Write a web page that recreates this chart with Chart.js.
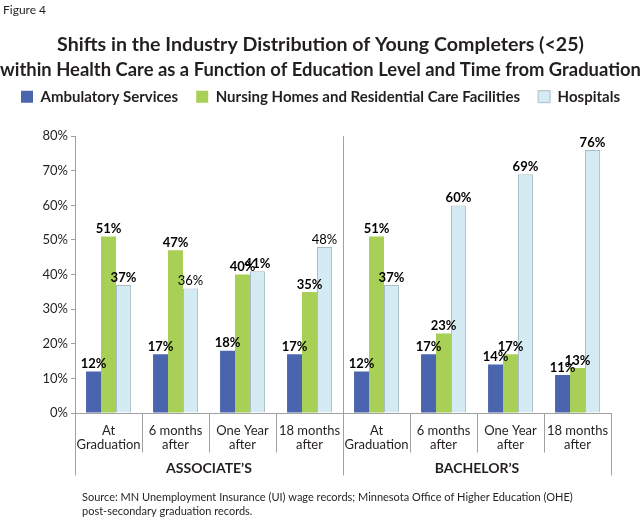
<!DOCTYPE html>
<html>
<head>
<meta charset="utf-8">
<script src="https://cdn.jsdelivr.net/npm/chart.js@4"></script>
<style>
  html, body { margin: 0; padding: 0; background: #fff; }
  #wrap { width: 641px; height: 521px; position: relative; }
</style>
</head>
<body>
<div id="wrap"><canvas id="c" width="641" height="521"></canvas></div>
<script>
// ---- data ----
const groups = ["ASSOCIATE\u2019S", "BACHELOR\u2019S"];
const periods = [["At", "Graduation"], ["6 months", "after"], ["One Year", "after"], ["18 months", "after"]];
const seriesNames = ["Ambulatory Services", "Nursing Homes and Residential Care Facilities", "Hospitals"];
const ambulatory = [12, 17, 18, 17, 12, 17, 14, 11];
const nursing = [51, 47, 40, 35, 51, 23, 17, 13];
const hospitals = [37, 36, 41, 48, 37, 60, 69, 76];
const yTicks = [0, 10, 20, 30, 40, 50, 60, 70, 80];

const categories = groups.flatMap(() => periods);
const FONT = "Lato, 'Open Sans', sans-serif";
const TEXT = "#231f20";
const LINE = "#a0a0a0";

const extras = {
  id: "extras",
  beforeInit(chart) {
    const fit = chart.legend.fit;
    chart.legend.fit = function () { fit.bind(chart.legend)(); this.height += 22; };
  },
  afterDraw(chart) {
    const ctx = chart.ctx;
    const x = chart.scales.x, y = chart.scales.y;
    const area = chart.chartArea;
    const n = categories.length;
    const step = (x.getPixelForValue(1) - x.getPixelForValue(0));
    const bounds = [];
    for (let i = 0; i <= n; i++) bounds.push(x.getPixelForValue(0) - step / 2 + i * step);
    ctx.save();
    ctx.strokeStyle = LINE;
    ctx.lineWidth = 1;
    const base = Math.round(y.getPixelForValue(0)) + 0.5;
    bounds.forEach((bx, i) => {
      const px = Math.round(bx) + 0.5;
      const isGroup = (i % periods.length === 0);
      ctx.beginPath();
      ctx.moveTo(px, isGroup && i > 0 && i < n ? area.top : base);
      ctx.lineTo(px, isGroup ? base + 62 : base + 39);
      ctx.stroke();
    });
    // group labels
    ctx.fillStyle = TEXT;
    ctx.font = "bold 14px " + FONT;
    ctx.textAlign = "center";
    ctx.textBaseline = "middle";
    groups.forEach((g, gi) => {
      const cx = (bounds[gi * periods.length] + bounds[(gi + 1) * periods.length]) / 2;
      ctx.fillText(g, cx, base + 55);
    });
    // figure label & source
    ctx.textAlign = "left";
    ctx.font = "12px " + FONT;
    ctx.fillText("Figure 4", 3, 10);
    ctx.font = "11px " + FONT;
    ctx.fillText("Source: MN Unemployment Insurance (UI) wage records; Minnesota Office of Higher Education (OHE)", 82, 497);
    ctx.fillText("post-secondary graduation records.", 82, 511);
    ctx.restore();
  },
  afterDatasetsDraw(chart) {
    const ctx = chart.ctx;
    ctx.save();
    ctx.fillStyle = "#000";
    ctx.textAlign = "center";
    ctx.textBaseline = "bottom";
    chart.data.datasets.forEach((ds, di) => {
      const meta = chart.getDatasetMeta(di);
      meta.data.forEach((bar, i) => {
        const plain = di === 2 && (i === 1 || i === 3);
        ctx.font = (plain ? "" : "bold ") + "13px " + FONT;
        ctx.fillText(ds.data[i] + "%", bar.x, bar.y - 1);
      });
    });
    ctx.restore();
  }
};

new Chart(document.getElementById("c"), {
  type: "bar",
  data: {
    labels: categories,
    datasets: [
      { label: seriesNames[0], data: ambulatory, backgroundColor: "#4a65ae", borderColor: "#4a65ae", borderWidth: 0 },
      { label: seriesNames[1], data: nursing, backgroundColor: "#a8cf56", borderColor: "#a8cf56", borderWidth: 0 },
      { label: seriesNames[2], data: hospitals, backgroundColor: "#d4ebf3", borderColor: "#abbcc4", borderWidth: 1 }
    ]
  },
  options: {
    responsive: false,
    animation: false,
    events: [],
    layout: { padding: 0 },
    datasets: { bar: { categoryPercentage: 0.67, barPercentage: 1.0 } },
    plugins: {
      title: {
        display: true,
        text: ["Shifts in the Industry Distribution of Young Completers (<25)",
               "within Health Care as a Function of Education Level and Time from Graduation"],
        color: TEXT,
        font: { family: FONT, size: 19.6, weight: "bold", lineHeight: 1.28 },
        padding: { top: 32, bottom: -11 }
      },
      legend: {
        display: true,
        labels: {
          color: TEXT,
          font: { family: FONT, size: 15, weight: "bold" },
          boxWidth: 12, boxHeight: 12, padding: 18
        }
      },
      tooltip: { enabled: false }
    },
    scales: {
      x: {
        grid: { display: false },
        border: { display: true, color: LINE },
        ticks: {
          color: TEXT, font: { family: FONT, size: 13, lineHeight: 1.08 }, padding: 3, maxRotation: 0, autoSkip: false,
          callback: (v, i) => categories[i]
        },
        afterFit: (s) => { s.height = 108; }
      },
      y: {
        min: 0, max: 80,
        afterBuildTicks: (s) => { s.ticks = yTicks.map(v => ({ value: v })); },
        grid: { drawOnChartArea: false, color: LINE, tickLength: 4 },
        border: { display: true, color: LINE },
        ticks: { color: TEXT, font: { family: FONT, size: 13 }, padding: 3, callback: v => v + "%" },
        afterFit: (s) => { s.width = 75; }
      },
      yRight: {
        position: "right",
        display: true,
        grid: { display: false },
        border: { display: false },
        ticks: { display: false },
        afterFit: (s) => { s.width = 30; }
      }
    }
  },
  plugins: [extras]
});
</script>
</body>
</html>
